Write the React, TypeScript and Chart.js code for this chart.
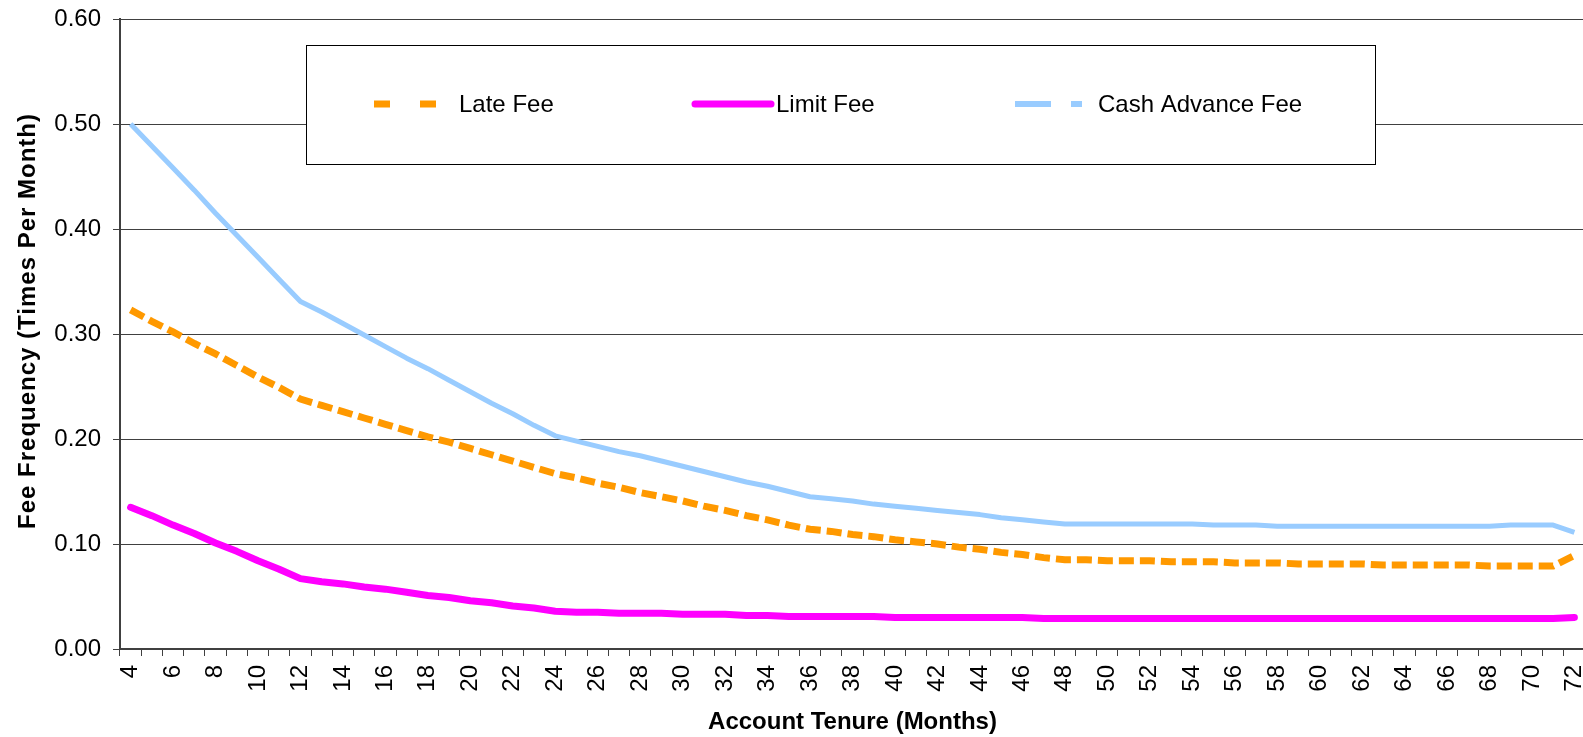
import React, { useEffect, useRef } from 'react';
import { Chart, registerables } from 'chart.js';

Chart.register(...registerables);

const tenureMonths = [
  4, 5, 6, 7, 8, 9, 10, 11, 12, 13, 14, 15, 16, 17, 18, 19, 20, 21, 22, 23, 24,
  25, 26, 27, 28, 29, 30, 31, 32, 33, 34, 35, 36, 37, 38, 39, 40, 41, 42, 43, 44,
  45, 46, 47, 48, 49, 50, 51, 52, 53, 54, 55, 56, 57, 58, 59, 60, 61, 62, 63, 64,
  65, 66, 67, 68, 69, 70, 71, 72,
];

const lateFee = [
  0.323, 0.312, 0.302, 0.291, 0.281, 0.270, 0.259, 0.249, 0.238,
  0.232, 0.226, 0.220, 0.214, 0.208, 0.202, 0.197, 0.191, 0.185, 0.179, 0.173, 0.167,
  0.163, 0.158, 0.154, 0.149, 0.145, 0.141, 0.136, 0.132, 0.127, 0.123, 0.118, 0.114,
  0.112, 0.109, 0.107, 0.104, 0.102, 0.100, 0.097, 0.095, 0.092, 0.090, 0.087, 0.085,
  0.085, 0.084, 0.084, 0.084, 0.083, 0.083, 0.083, 0.082, 0.082, 0.082, 0.081, 0.081,
  0.081, 0.081, 0.080, 0.080, 0.080, 0.080, 0.080, 0.079, 0.079, 0.079, 0.079, 0.089,
];

const limitFee = [
  0.135, 0.127, 0.118, 0.110, 0.101, 0.093, 0.084, 0.076, 0.067,
  0.064, 0.062, 0.059, 0.057, 0.054, 0.051, 0.049, 0.046, 0.044, 0.041, 0.039, 0.036,
  0.035, 0.035, 0.034, 0.034, 0.034, 0.033, 0.033, 0.033, 0.032, 0.032, 0.031, 0.031,
  0.031, 0.031, 0.031, 0.030, 0.030, 0.030, 0.030, 0.030, 0.030, 0.030, 0.029, 0.029,
  0.029, 0.029, 0.029, 0.029, 0.029, 0.029, 0.029, 0.029, 0.029, 0.029, 0.029, 0.029,
  0.029, 0.029, 0.029, 0.029, 0.029, 0.029, 0.029, 0.029, 0.029, 0.029, 0.029, 0.030,
];

const cashAdvanceFee = [
  0.500, 0.479, 0.458, 0.437, 0.415, 0.394, 0.373, 0.352, 0.331,
  0.321, 0.310, 0.299, 0.288, 0.277, 0.267, 0.256, 0.245, 0.234, 0.224, 0.213, 0.203,
  0.198, 0.193, 0.188, 0.184, 0.179, 0.174, 0.169, 0.164, 0.159, 0.155, 0.150, 0.145,
  0.143, 0.141, 0.138, 0.136, 0.134, 0.132, 0.130, 0.128, 0.125, 0.123, 0.121, 0.119,
  0.119, 0.119, 0.119, 0.119, 0.119, 0.119, 0.118, 0.118, 0.118, 0.117, 0.117, 0.117,
  0.117, 0.117, 0.117, 0.117, 0.117, 0.117, 0.117, 0.117, 0.118, 0.118, 0.118, 0.111,
];

const seriesNames = ['Late Fee', 'Limit Fee', 'Cash Advance Fee'];
const seriesColors = ['#FF9900', '#FF00FF', '#99CCFF'];
const xTitle = 'Account Tenure (Months)';
const yTitle = 'Fee Frequency (Times Per Month)';
const yMin = 0;
const yMax = 0.6;
const yStep = 0.1;

const FONT = "'Liberation Sans', Arial, sans-serif";

const decorPlugin = {
  id: 'decor',
  afterDraw(chart: any) {
    const ctx = chart.ctx as CanvasRenderingContext2D;
    const area = chart.chartArea;
    ctx.save();

    // Legend box
    const bx = 306, by = 45, bw = 1069, bh = 120;
    ctx.fillStyle = '#ffffff';
    ctx.fillRect(bx, by, bw, bh);
    ctx.strokeStyle = '#000000';
    ctx.lineWidth = 1;
    ctx.strokeRect(bx + 0.5, by + 0.5, bw, bh - 1);

    const cy = 104;
    // Late fee sample
    ctx.lineCap = 'butt';
    ctx.strokeStyle = seriesColors[0];
    ctx.lineWidth = 7;
    ctx.setLineDash([16, 30]);
    ctx.beginPath();
    ctx.moveTo(374, cy);
    ctx.lineTo(436, cy);
    ctx.stroke();
    // Limit fee sample
    ctx.setLineDash([]);
    ctx.lineCap = 'round';
    ctx.strokeStyle = seriesColors[1];
    ctx.lineWidth = 7;
    ctx.beginPath();
    ctx.moveTo(695, cy);
    ctx.lineTo(771, cy);
    ctx.stroke();
    // Cash advance sample
    ctx.lineCap = 'butt';
    ctx.strokeStyle = seriesColors[2];
    ctx.lineWidth = 6;
    ctx.setLineDash([36, 20, 11, 200]);
    ctx.beginPath();
    ctx.moveTo(1015, cy);
    ctx.lineTo(1082, cy);
    ctx.stroke();
    ctx.setLineDash([]);

    ctx.fillStyle = '#000000';
    ctx.font = `24px ${FONT}`;
    ctx.textAlign = 'left';
    ctx.textBaseline = 'middle';
    ctx.fillText(seriesNames[0], 459, cy + 1);
    ctx.fillText(seriesNames[1], 776, cy + 1);
    ctx.fillText(seriesNames[2], 1098, cy + 1);

    // Axis titles
    ctx.font = `bold 24px ${FONT}`;
    ctx.textAlign = 'center';
    ctx.fillText(xTitle, (area.left + area.right) / 2, 722);

    ctx.save();
    ctx.translate(28, 321);
    ctx.rotate(-Math.PI / 2);
    try { (ctx as any).letterSpacing = '1px'; } catch (e) { /* ignore */ }
    ctx.fillText(yTitle, 0, 0);
    ctx.restore();

    ctx.restore();
  },
};

export default function App() {
  const canvasRef = useRef<HTMLCanvasElement | null>(null);

  useEffect(() => {
    const canvas = canvasRef.current;
    if (!canvas) return;
    const chart = new Chart(canvas, {
      type: 'line',
      data: {
        labels: tenureMonths.map(String),
        datasets: [
          {
            label: seriesNames[2],
            data: cashAdvanceFee,
            borderColor: seriesColors[2],
            borderWidth: 5,
            pointRadius: 0,
            tension: 0,
            fill: false,
            borderCapStyle: 'butt',
            borderJoinStyle: 'round',
          },
          {
            label: seriesNames[0],
            data: lateFee,
            borderColor: seriesColors[0],
            borderWidth: 7,
            borderDash: [15, 6],
            pointRadius: 0,
            tension: 0,
            fill: false,
            borderCapStyle: 'butt',
          },
          {
            label: seriesNames[1],
            data: limitFee,
            borderColor: seriesColors[1],
            borderWidth: 7,
            pointRadius: 0,
            tension: 0,
            fill: false,
            borderCapStyle: 'round',
            borderJoinStyle: 'round',
          },
        ],
      },
      options: {
        animation: false,
        responsive: false,
        devicePixelRatio: 1,
        layout: { padding: { top: 19, right: 5, left: 0, bottom: 0 } },
        plugins: {
          legend: { display: false },
          tooltip: { enabled: false },
          title: { display: false },
        },
        scales: {
          x: {
            type: 'category',
            offset: true,
            grid: {
              drawOnChartArea: false,
              drawTicks: true,
              tickLength: 7,
              tickColor: '#404040',
              tickWidth: 1,
              offset: true,
            },
            border: { display: true, color: '#404040', width: 2 },
            ticks: {
              autoSkip: false,
              maxRotation: 90,
              minRotation: 90,
              padding: 9,
              color: '#000000',
              font: { family: FONT, size: 24 },
              callback: function (this: any, value: any, index: number) {
                return index % 2 === 0 ? this.getLabelForValue(value) : '';
              },
            },
            afterFit: (scale: any) => {
              scale.height = 88;
              scale.paddingLeft = 0;
              scale.paddingRight = 0;
              scale.paddingTop = 0;
              scale.paddingBottom = 0;
            },
          },
          y: {
            min: yMin,
            max: yMax,
            grid: {
              color: '#404040',
              lineWidth: 1,
              drawTicks: true,
              tickLength: 7,
              tickColor: '#404040',
            },
            border: { display: true, color: '#404040', width: 2 },
            ticks: {
              stepSize: yStep,
              padding: 12,
              color: '#000000',
              font: { family: FONT, size: 24 },
              callback: (v: any) => Number(v).toFixed(2),
            },
            afterFit: (scale: any) => {
              scale.width = 120;
              scale.paddingLeft = 0;
              scale.paddingRight = 0;
              scale.paddingTop = 0;
              scale.paddingBottom = 0;
            },
          },
        },
      },
      plugins: [decorPlugin],
    });
    return () => chart.destroy();
  }, []);

  return (
    <div
      style={{
        position: 'absolute',
        left: 0,
        top: 0,
        width: 1583,
        height: 737,
        overflow: 'hidden',
        background: '#ffffff',
      }}
    >
      <canvas
        ref={canvasRef}
        width={1590}
        height={737}
        style={{ display: 'block', width: 1590, height: 737 }}
      />
    </div>
  );
}
